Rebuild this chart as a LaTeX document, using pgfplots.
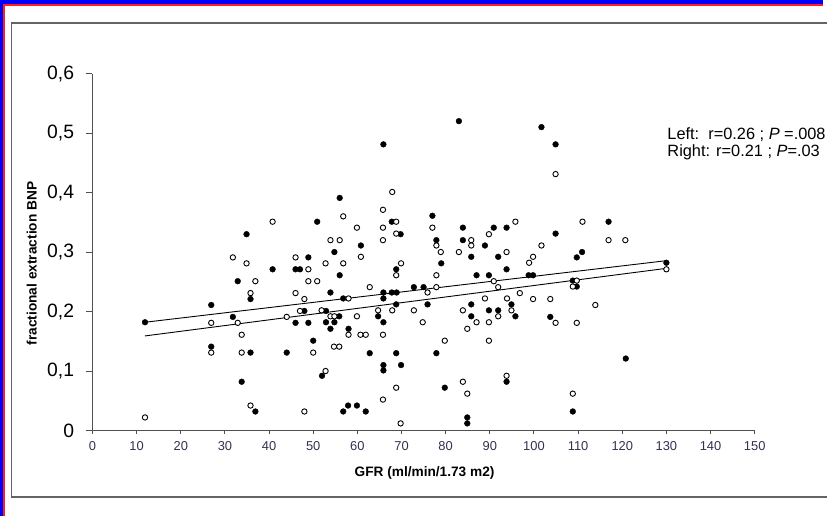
\documentclass[border=0pt]{standalone}
\usepackage{fontspec}
\setmainfont{Liberation Sans}
\usepackage{pgfplots}
\pgfplotsset{compat=1.18}
\definecolor{frameblue}{RGB}{0,0,255}
\definecolor{framered}{RGB}{255,30,30}
\definecolor{boxgray}{RGB}{100,100,100}
\definecolor{axisgray}{RGB}{80,80,80}
\definecolor{xticklab}{RGB}{50,50,80}
\begin{document}
\begin{tikzpicture}[x=1bp,y=1bp]
\fill[frameblue] (0,0) rectangle (828,519);
\fill[framered] (3,0) rectangle (828,514.5);
\fill[white] (5,0) rectangle (828,513);
\draw[boxgray, line width=1.5bp] (832,496) -- (11.7,496) -- (11.7,19) -- (832,19);
\path[use as bounding box] (0,0) rectangle (828,519);
\begin{axis}[
  at={(93bp,86bp)}, anchor=south west,
  width=666bp, height=359bp, scale only axis,
  xmin=0, xmax=150, ymin=0, ymax=0.6,
  clip=false,
  axis lines=left,
  axis line style={-, axisgray, line width=1.2bp},
  xtick={0,10,...,150},
  ytick={0,0.1,0.2,0.3,0.4,0.5,0.6},
  tick align=outside,
  major tick length=7bp,
  xtick style={axisgray, line width=1bp, /pgfplots/major tick length=3bp},
  ytick style={axisgray, line width=1bp},
  /pgf/number format/assume math mode=true,
  yticklabel style={/pgf/number format/.cd, use comma, fixed, precision=1, /tikz/.cd, font=\fontsize{19.5}{23}\selectfont, xshift=-8bp},
  xticklabel style={font=\fontsize{13}{15}\selectfont, text=xticklab, yshift=-1bp},
  xlabel={GFR (ml/min/1.73 m2)},
  xlabel style={font=\bfseries\fontsize{13.8}{16}\selectfont, at={(axis description cs:0.5015,-0.1198)}, anchor=center},
  ylabel={fractional extraction BNP},
  ylabel style={font=\bfseries\fontsize{13.8}{16}\selectfont, at={(axis description cs:-0.0916,0.468)}, anchor=center},
]
% filled
\addplot[only marks, mark=*, mark size=2.9bp, black] coordinates {
(11.9,0.182) (26.9,0.211) (26.9,0.141) (31.8,0.191) (32.9,0.251) (33.8,0.082)
(34.9,0.330) (35.8,0.221) (35.8,0.131) (36.9,0.032) (40.8,0.271) (44.0,0.131)
(46.0,0.271) (47.0,0.271) (48.0,0.201) (46.0,0.181) (48.9,0.291) (48.9,0.181)
(50.0,0.151) (50.9,0.351) (52.0,0.092) (52.9,0.201) (52.9,0.182) (53.9,0.232)
(53.9,0.171) (54.8,0.300) (54.8,0.182) (56.0,0.391) (56.0,0.261) (55.9,0.192)
(56.8,0.222) (56.8,0.032) (58.0,0.171) (57.9,0.042) (59.9,0.042) (60.8,0.311)
(61.9,0.032) (62.8,0.130) (64.7,0.192) (65.9,0.481) (65.9,0.232) (65.9,0.222)
(65.9,0.182) (65.9,0.110) (65.9,0.101) (67.8,0.351) (67.8,0.232) (68.9,0.232)
(68.8,0.271) (68.8,0.212) (68.8,0.130) (69.8,0.330) (69.9,0.110) (72.8,0.241)
(75.0,0.241) (75.9,0.212) (77.0,0.361) (77.9,0.320) (77.9,0.130) (79.0,0.281)
(79.8,0.072) (83.0,0.520) (83.9,0.341) (83.9,0.320) (84.9,0.022) (84.9,0.012)
(85.8,0.292) (85.8,0.212) (85.8,0.192) (87.0,0.261) (88.9,0.311) (89.8,0.261)
(89.8,0.202) (90.9,0.341) (91.9,0.292) (91.9,0.202) (93.8,0.341) (93.8,0.271)
(93.8,0.082) (94.9,0.212) (95.8,0.192) (98.8,0.261) (99.8,0.261) (101.7,0.510)
(103.7,0.191) (104.9,0.481) (104.9,0.331) (108.8,0.252) (108.8,0.032) (109.7,0.291)
(109.7,0.242) (110.9,0.300) (116.9,0.351) (120.8,0.121) (130.0,0.282)
};
% open
\addplot[only marks, mark=*, mark size=2.7bp, mark options={fill=white, draw=black, line width=0.9bp}] coordinates {
(11.9,0.022) (26.9,0.181) (26.9,0.131) (31.8,0.291) (32.9,0.181) (33.8,0.161)
(33.8,0.131) (34.9,0.281) (35.8,0.231) (35.8,0.042) (36.9,0.251) (40.8,0.351)
(44.0,0.191) (46.0,0.291) (46.0,0.231) (47.0,0.201) (48.0,0.221) (48.0,0.032)
(48.9,0.271) (48.9,0.251) (50.0,0.131) (50.9,0.251) (51.9,0.202) (52.8,0.281)
(52.8,0.100) (53.9,0.320) (53.9,0.192) (54.8,0.192) (54.7,0.141) (56.0,0.320)
(55.9,0.141) (56.8,0.360) (56.8,0.281) (58.0,0.222) (58.0,0.161) (59.9,0.341)
(59.9,0.192) (60.8,0.292) (60.7,0.161) (61.9,0.161) (62.8,0.241) (64.7,0.202)
(65.8,0.371) (65.8,0.341) (65.8,0.320) (65.8,0.161) (65.8,0.052) (67.9,0.401)
(67.9,0.202) (68.8,0.351) (68.8,0.331) (68.8,0.261) (68.8,0.072) (69.9,0.281)
(69.8,0.012) (72.8,0.202) (74.8,0.182) (75.9,0.232) (77.0,0.341) (77.9,0.311)
(77.9,0.261) (77.9,0.241) (78.9,0.300) (79.8,0.151) (83.0,0.300) (83.9,0.202)
(83.9,0.082) (84.9,0.171) (84.9,0.062) (85.8,0.320) (85.8,0.311) (87.0,0.182)
(88.9,0.222) (89.8,0.330) (89.8,0.182) (89.8,0.151) (90.9,0.251) (91.9,0.241)
(91.9,0.192) (93.8,0.300) (93.9,0.222) (93.8,0.092) (94.9,0.202) (95.8,0.351)
(96.8,0.231) (98.9,0.282) (99.8,0.292) (99.8,0.221) (101.7,0.311) (103.7,0.221)
(104.9,0.431) (104.9,0.181) (108.8,0.242) (108.8,0.062) (109.7,0.252) (109.7,0.181)
(111.0,0.351) (113.9,0.211) (116.9,0.320) (120.7,0.320) (130.0,0.271)
};
\addplot[black, line width=0.9bp, no marks] coordinates {(11.9,0.182) (130,0.2855)};
\addplot[black, line width=0.9bp, no marks] coordinates {(11.9,0.159) (130,0.2726)};
\node[anchor=west, inner sep=0pt, font=\fontsize{16.5}{19}\selectfont] at (axis cs:130.2,0.498) {Left:\ \ r=0.26 ; \textit{P} =.008};
\node[anchor=west, inner sep=0pt, font=\fontsize{16.5}{19}\selectfont] at (axis cs:130.2,0.468) {Right: r=0.21 ; \textit{P}=.03};
\end{axis}
\end{tikzpicture}
\end{document}
